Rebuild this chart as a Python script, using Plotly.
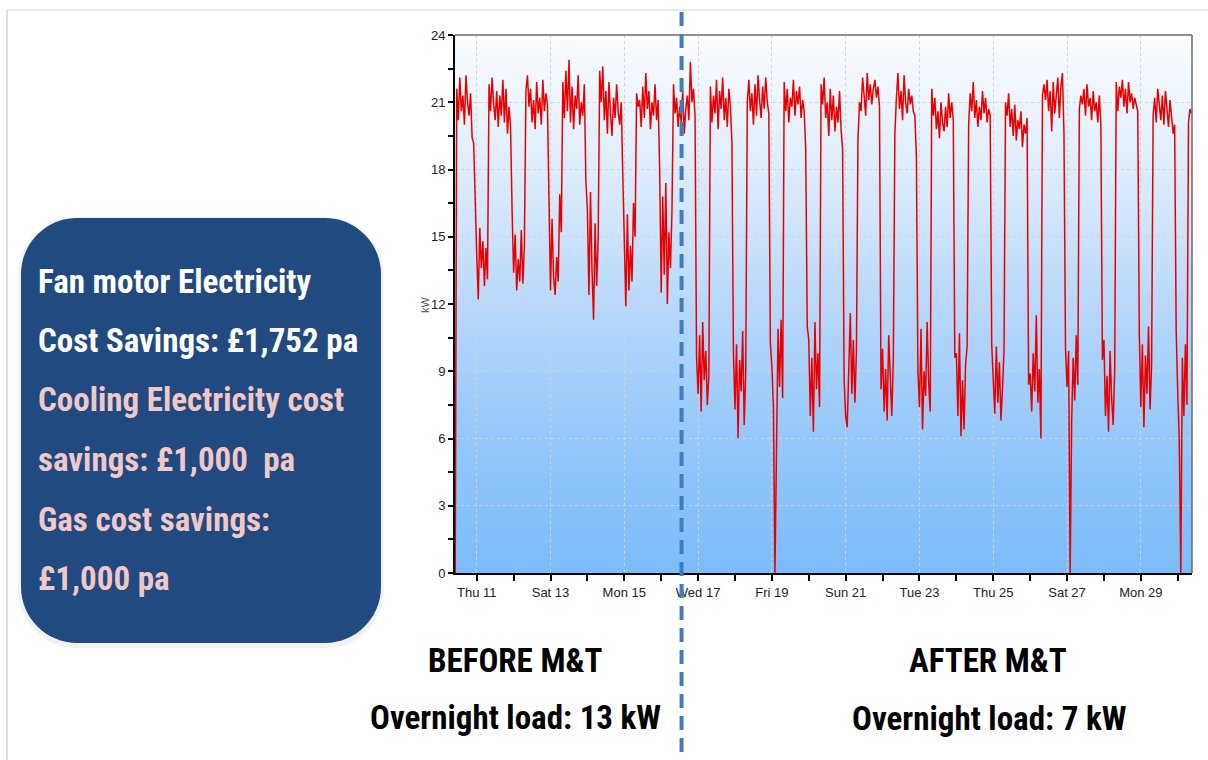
import plotly.graph_objects as go
import pandas as pd

# ---------------- data: hourly fan-motor load (kW), July 2013 ----------------
kw_wed10 = [0.0, 21.6, 20.2, 22.1, 20.6, 21.3, 20.0, 22.2, 21.0, 20.4, 21.4, 19.4, 19.2, 16.3]  # hours 10-23
kw_thu11 = [14.2, 12.2, 15.4, 13.6, 14.8, 12.8, 14.5, 13.1,
            21.8, 20.6, 22.1, 20.9, 20.2, 21.5, 19.9, 21.3, 20.4, 22.0, 20.1, 21.6, 19.6, 20.8, 19.9, 16.2]
kw_fri12 = [13.4, 15.1, 12.6, 14.0, 13.0, 15.3, 12.9, 14.6,
            21.5, 22.2, 20.8, 21.6, 20.1, 21.1, 19.8, 21.9, 20.5, 21.2, 20.0, 22.0, 20.6, 21.4, 20.9, 16.7]
kw_sat13 = [12.6, 15.8, 13.2, 12.4, 14.1, 13.0, 16.9, 15.2,
            21.9, 20.3, 22.4, 20.6, 22.9, 20.1, 21.7, 19.8, 21.3, 20.7, 22.2, 20.0, 21.0, 20.4, 21.8, 17.5]
kw_sun14 = [16.2, 12.4, 17.0, 13.5, 11.3, 15.6, 12.8, 14.9,
            22.4, 21.0, 22.6, 20.2, 21.5, 19.6, 21.9, 20.5, 19.5, 21.2, 20.3, 21.8, 20.6, 20.0, 21.0, 17.8]
kw_mon15 = [14.0, 11.9, 16.0, 12.6, 14.6, 13.0, 16.5, 15.0,
            21.4, 20.8, 21.1, 19.9, 21.7, 20.3, 22.3, 20.7, 21.5, 19.8, 21.0, 20.4, 21.8, 20.2, 21.1, 18.0]
kw_tue16 = [12.5, 16.8, 13.3, 17.4, 12.0, 15.2, 13.6, 16.1,
            21.8, 20.5, 21.2, 19.9, 20.8, 20.1, 21.5, 19.6, 20.7, 21.3, 20.2, 22.8, 21.0, 21.6, 20.4, 9.6]
kw_wed17 = [8.0, 10.6, 7.2, 11.2, 8.6, 9.9, 7.5, 8.8,
            21.7, 20.1, 21.3, 20.5, 22.0, 19.8, 21.5, 20.7, 22.1, 20.2, 21.2, 19.9, 21.6, 20.8, 19.2, 9.8]
kw_thu18 = [7.3, 10.2, 6.0, 9.5, 8.1, 10.8, 6.6, 9.0,
            21.0, 22.0, 20.6, 21.4, 20.0, 21.8, 20.4, 22.2, 21.1, 20.3, 21.7, 20.7, 22.1, 21.0, 20.5, 10.3]
kw_fri19 = [9.2, 7.4, 0.0, 6.2, 10.9, 8.3, 11.3, 7.8,
            21.9, 20.6, 21.6, 20.1, 21.2, 20.8, 22.0, 20.4, 21.5, 20.9, 21.7, 20.3, 21.1, 20.6, 18.9, 11.0]
kw_sat20 = [10.4, 7.0, 9.6, 6.3, 11.2, 8.2, 9.8, 7.4,
            21.8, 20.9, 22.1, 20.3, 21.0, 19.5, 21.6, 20.2, 21.3, 19.7, 20.8, 20.1, 21.5, 19.8, 18.9, 8.6]
kw_sun21 = [7.0, 6.5, 9.2, 11.6, 8.0, 10.4, 7.6, 9.9,
            19.4, 21.0, 20.6, 22.1, 21.3, 20.4, 22.3, 21.1, 21.8, 20.9, 21.6, 22.0, 21.2, 21.7, 20.8, 8.2]
kw_mon22 = [10.0, 7.2, 9.1, 6.8, 10.6, 8.4, 7.0, 9.5,
            19.6, 21.2, 22.3, 20.7, 21.5, 20.2, 22.2, 21.0, 20.5, 21.6, 20.9, 21.3, 20.6, 20.4, 18.6, 9.0]
kw_tue23 = [7.4, 10.9, 6.4, 9.0, 7.9, 11.2, 8.5, 7.2,
            21.6, 20.4, 21.2, 19.8, 20.6, 19.4, 21.0, 20.1, 19.7, 20.8, 19.9, 21.4, 20.3, 21.0, 20.2, 9.6]
kw_wed24 = [9.8, 7.0, 10.7, 6.1, 8.6, 6.4, 9.3, 10.1,
            20.0, 21.4, 20.6, 21.9, 20.3, 21.1, 19.9, 20.8, 20.2, 21.5, 20.5, 21.2, 20.1, 20.7, 20.4, 10.2]
kw_thu25 = [8.6, 7.1, 10.1, 7.6, 9.4, 6.8, 8.2, 9.9,
            21.0, 20.4, 21.4, 19.9, 20.7, 19.5, 20.9, 19.3, 20.2, 19.8, 20.6, 19.0, 20.0, 19.6, 20.3, 8.4]
kw_fri26 = [8.9, 7.2, 9.8, 8.1, 11.5, 7.6, 9.1, 6.0,
            21.3, 21.8, 21.1, 22.0, 20.6, 21.5, 19.7, 21.9, 20.5, 21.4, 22.1, 20.3, 21.7, 22.3, 19.6, 10.0]
kw_sat27 = [8.3, 9.9, 0.0, 6.8, 9.6, 7.7, 10.6, 8.4,
            20.7, 21.3, 20.9, 21.6, 20.4, 21.8, 20.8, 21.2, 20.2, 21.5, 20.6, 21.0, 20.1, 21.3, 20.0, 9.5]
kw_sun28 = [10.4, 7.0, 8.8, 6.3, 9.9, 7.8, 6.6, 9.0,
            21.9, 20.6, 21.7, 21.2, 22.0, 20.8, 21.6, 20.5, 21.9, 21.0, 21.4, 20.7, 21.2, 20.9, 20.6, 10.7]
kw_mon29 = [7.4, 10.2, 6.5, 9.7, 8.0, 11.0, 7.3, 9.3,
            20.4, 21.2, 20.1, 21.6, 20.8, 20.2, 21.3, 20.0, 21.5, 20.5, 19.9, 21.1, 20.3, 19.6, 20.0, 10.8]
kw_tue30 = [8.1, 5.9, 0.0, 9.6, 7.0, 10.2, 7.5, 20.1, 20.7, 20.5]  # hours 0-9

series_start = "2013-07-10 10:00"
kw = (kw_wed10 + kw_thu11 + kw_fri12 + kw_sat13 + kw_sun14 + kw_mon15 + kw_tue16 +
      kw_wed17 + kw_thu18 + kw_fri19 + kw_sat20 + kw_sun21 + kw_mon22 + kw_tue23 +
      kw_wed24 + kw_thu25 + kw_fri26 + kw_sat27 + kw_sun28 + kw_mon29 + kw_tue30)
times = pd.date_range(series_start, periods=len(kw), freq="h")

x_tick_dates = ["2013-07-11", "2013-07-13", "2013-07-15", "2013-07-17", "2013-07-19",
                "2013-07-21", "2013-07-23", "2013-07-25", "2013-07-27", "2013-07-29"]
x_tick_labels = ["Thu 11", "Sat 13", "Mon 15", "Wed 17", "Fri 19",
                 "Sun 21", "Tue 23", "Thu 25", "Sat 27", "Mon 29"]
y_ticks = [0, 3, 6, 9, 12, 15, 18, 21, 24]
y_tick_labels = ["0", "3", "6", "9", "12", "15", "18", "21", "24"]

x_start = pd.Timestamp("2013-07-10 09:52")
x_end = pd.Timestamp("2013-07-30 09:17")
change_time = pd.Timestamp("2013-07-16 13:15")

box_lines = ["Fan motor Electricity", "Cost Savings: £1,752 pa", "Cooling Electricity cost",
             "savings: £1,000  pa", "Gas cost savings:", "£1,000 pa"]
box_colors = ["#ffffff", "#ffffff", "#f0c8c8", "#f0c8c8", "#f0c8c8", "#f0c8c8"]

# ---------------- layout helpers (pixel -> paper) ----------------
W, H = 1208, 760
L, R, T, B = 455, 16, 35, 187
PW, PH = W - L - R, H - T - B


def px(x):
    return (x - L) / PW


def py(y):
    return (H - B - y) / PH


NARROW = "Liberation Sans Narrow, Arial Narrow, Roboto Condensed, Liberation Sans, sans-serif"

fig = go.Figure()
fig.add_trace(go.Scatter(x=times, y=kw, mode="lines",
                         line=dict(color="rgb(232,0,0)", width=1.5),
                         showlegend=False, hoverinfo="x+y"))

shapes = []
# gradient background in plot area
stops = [(0, (125, 188, 250)), (4, (140, 196, 250)), (8, (160, 205, 250)), (12, (184, 216, 250)),
         (16, (210, 230, 251)), (20, (232, 242, 253)), (24, (250, 252, 255))]


def col_at(v):
    for (a, ca), (b, cb) in zip(stops[:-1], stops[1:]):
        if a <= v <= b:
            t = (v - a) / (b - a)
            return tuple(round(ca[i] + (cb[i] - ca[i]) * t) for i in range(3))
    return stops[-1][1]


nb = 120
for i in range(nb):
    v0 = 24 * i / nb
    v1 = 24 * (i + 1) / nb
    c = col_at((v0 + v1) / 2)
    shapes.append(dict(type="rect", xref="paper", yref="paper", x0=0, x1=1,
                       y0=v0 / 24, y1=min(1, v1 / 24 + 0.002), layer="below",
                       fillcolor="rgb(%d,%d,%d)" % c, line=dict(width=0)))

# top & right frame of plot
shapes.append(dict(type="line", xref="paper", yref="paper", x0=0, x1=1, y0=1, y1=1,
                   line=dict(color="#6a6a6a", width=1.5)))
shapes.append(dict(type="line", xref="paper", yref="paper", x0=1, x1=1, y0=0, y1=1,
                   line=dict(color="#6a6a6a", width=1.5)))

# slide frame lines
shapes.append(dict(type="line", xref="paper", yref="paper", x0=px(7), x1=px(1208), y0=py(10), y1=py(10),
                   line=dict(color="#d4d4d4", width=1)))
shapes.append(dict(type="line", xref="paper", yref="paper", x0=px(7), x1=px(7), y0=py(10), y1=py(760),
                   line=dict(color="#d4d4d4", width=1.5)))

# dashed change line
xc = (change_time - x_start) / (x_end - x_start)
shapes.append(dict(type="line", xref="paper", yref="paper", x0=xc, x1=xc, y0=py(12), y1=py(760),
                   line=dict(color="#3f7dbf", width=4, dash="14px,8px")))


def rounded(x0, y0, x1, y1, r):
    k = 0.55 * r
    pts = [
        ("M", [(x0 + r, y0)]), ("L", [(x1 - r, y0)]),
        ("C", [(x1 - r + k, y0), (x1, y0 + r - k), (x1, y0 + r)]),
        ("L", [(x1, y1 - r)]),
        ("C", [(x1, y1 - r + k), (x1 - r + k, y1), (x1 - r, y1)]),
        ("L", [(x0 + r, y1)]),
        ("C", [(x0 + r - k, y1), (x0, y1 - r + k), (x0, y1 - r)]),
        ("L", [(x0, y0 + r)]),
        ("C", [(x0, y0 + r - k), (x0 + r - k, y0), (x0 + r, y0)]),
    ]
    s = ""
    for cmd, ps in pts:
        s += cmd + " ".join("%.5f,%.5f" % (px(a), py(b)) for a, b in ps) + " "
    return s + "Z"


shapes.append(dict(type="path", xref="paper", yref="paper", path=rounded(18, 217, 384, 648, 58),
                   fillcolor="rgba(0,0,0,0.05)", line=dict(width=0)))
shapes.append(dict(type="path", xref="paper", yref="paper", path=rounded(21, 218, 381, 643, 56),
                   fillcolor="#214a80", line=dict(width=0)))

annotations = []
line_y = [281, 340, 399, 459, 519, 578]
for txt, c, yy in zip(box_lines, box_colors, line_y):
    annotations.append(dict(xref="paper", yref="paper", x=px(36), y=py(yy), xanchor="left", yanchor="middle",
                            text="<b>%s</b>" % txt, showarrow=False,
                            font=dict(family=NARROW, size=33, color=c)))

for txt, xx, yy in [("BEFORE M&T", 515, 660), ("Overnight load: 13 kW", 515, 717),
                    ("AFTER M&T", 988, 660), ("Overnight load: 7 kW", 989, 718)]:
    annotations.append(dict(xref="paper", yref="paper", x=px(xx), y=py(yy), xanchor="center", yanchor="middle",
                            text="<b>%s</b>" % txt.replace("&", "&amp;"), showarrow=False,
                            font=dict(family=NARROW, size=33, color="#000000")))

annotations.append(dict(xref="paper", yref="paper", x=px(425), y=py(305), xanchor="center", yanchor="middle",
                        text="kW", textangle=-90, showarrow=False,
                        font=dict(family="Liberation Sans, sans-serif", size=11, color="#555555")))

fig.update_layout(
    width=W, height=H, autosize=False,
    margin=dict(l=L, r=R, t=T, b=B, pad=0),
    paper_bgcolor="white", plot_bgcolor="white",
    shapes=shapes, annotations=annotations, showlegend=False,
    xaxis=dict(type="date", range=[x_start, x_end], tickmode="array",
               tickvals=x_tick_dates, ticktext=x_tick_labels,
               ticks="outside", ticklen=6, tickwidth=2, tickcolor="#000",
               showline=True, linecolor="#000", linewidth=2,
               showgrid=True, gridcolor="#cfd3d8", griddash="dot", gridwidth=1,
               zeroline=False,
               tickfont=dict(family="Liberation Sans, sans-serif", size=13, color="#222"),
               minor=dict(tick0="2013-07-10", dtick=86400000, ticks="outside", ticklen=6,
                          tickwidth=2, tickcolor="#000", showgrid=False)),
    yaxis=dict(range=[0, 24], tickmode="array", tickvals=y_ticks, ticktext=y_tick_labels,
               ticks="outside", ticklen=5, tickwidth=2, tickcolor="#000",
               showline=True, linecolor="#000", linewidth=2,
               showgrid=True, gridcolor="#cfd3d8", griddash="dot", gridwidth=1,
               zeroline=False,
               tickfont=dict(family="Liberation Sans, sans-serif", size=13, color="#222"),
               minor=dict(tick0=0, dtick=1.5, ticks="outside", ticklen=5, tickwidth=2,
                          tickcolor="#000", showgrid=False)),
)

fig.write_html("out.html")
